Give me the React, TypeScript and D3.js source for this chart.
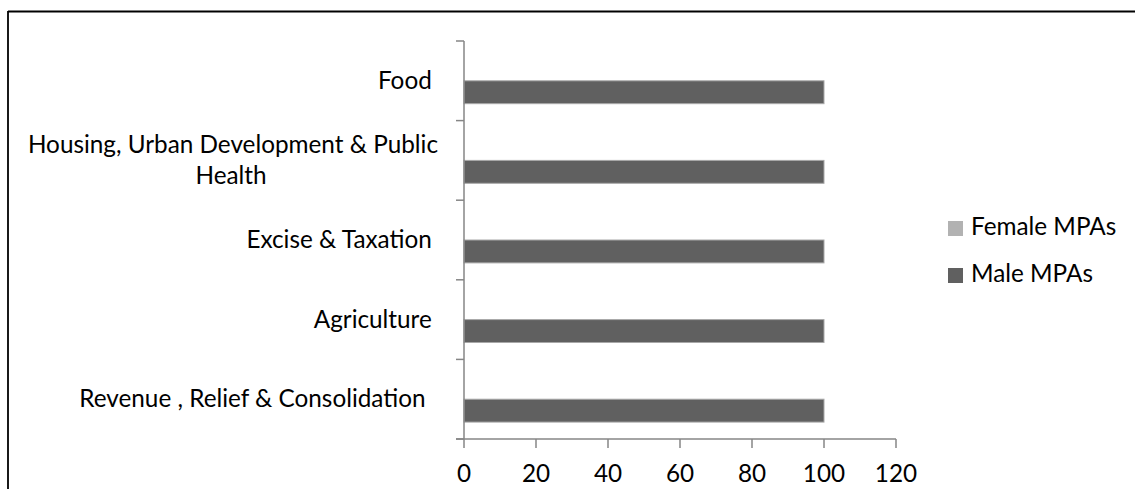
import React from "react";
import * as d3 from "d3";

const categories = [
  "Food",
  "Housing, Urban Development & Public Health",
  "Excise & Taxation",
  "Agriculture",
  "Revenue , Relief & Consolidation",
];
const labelLines = [
  ["Food "],
  ["Housing, Urban Development & Public", "Health"],
  ["Excise & Taxation "],
  ["Agriculture "],
  ["Revenue , Relief & Consolidation  "],
];
const seriesNames = ["Female MPAs", "Male MPAs"];
const femaleValues = [0, 0, 0, 0, 0];
const maleValues = [100, 100, 100, 100, 100];
const xTicks = [0, 20, 40, 60, 80, 100, 120];

const W = 1135;
const H = 489;
const FONT = "Lato, 'Open Sans', sans-serif";
const FS = 24.3;
const AXIS = "#868686";
const COLORS: Record<string, string> = { "Female MPAs": "#b2b2b2", "Male MPAs": "#606060" };

export default function App() {
  const x = d3.scaleLinear().domain([0, 120]).range([464, 896]);
  const y = d3.scaleBand<string>().domain(categories).range([41, 439]).paddingInner(0).paddingOuter(0);
  const sub = d3
    .scaleBand<string>()
    .domain(seriesNames)
    .range([0, y.bandwidth()])
    .paddingInner(0)
    .paddingOuter(0.739);
  const values: Record<string, number[]> = { "Female MPAs": femaleValues, "Male MPAs": maleValues };
  const bandEdges = categories.map((c) => y(c) as number).concat([y.range()[1]]);

  return (
    <svg width={W} height={H} style={{ position: "absolute", left: 0, top: 0, background: "#fff" }}>
      <rect x={0} y={0} width={W} height={H} fill="#fff" />
      {/* frame */}
      <line x1={8} y1={11.5} x2={W} y2={11.5} stroke="#000" strokeWidth={1.8} />
      <line x1={8} y1={11} x2={8} y2={H} stroke="#000" strokeWidth={1.8} />

      {/* bars */}
      {seriesNames.map((s) =>
        categories.map((c, i) => {
          const v = values[s][i];
          if (v <= 0) return null;
          const yy = (y(c) as number) + (sub(s) as number);
          return (
            <rect
              key={s + c}
              x={x(0)}
              y={yy}
              width={x(v) - x(0)}
              height={sub.bandwidth()}
              fill={COLORS[s]}
              stroke="#a8a8a8"
              strokeWidth={1}
            />
          );
        })
      )}

      {/* y axis */}
      <line x1={464} y1={y.range()[0]} x2={464} y2={y.range()[1]} stroke={AXIS} strokeWidth={1.5} />
      {bandEdges.map((e, i) => (
        <line key={"yt" + i} x1={456} y1={e} x2={464} y2={e} stroke={AXIS} strokeWidth={1.5} />
      ))}
      {/* x axis */}
      <line x1={456} y1={439} x2={x(120)} y2={439} stroke={AXIS} strokeWidth={1.5} />
      {xTicks.map((t) => (
        <line key={"xt" + t} x1={x(t)} y1={439} x2={x(t)} y2={448} stroke={AXIS} strokeWidth={1.5} />
      ))}
      {xTicks.map((t) => (
        <text key={"xl" + t} x={x(t)} y={482} textAnchor="middle" fontFamily={FONT} fontSize={FS} fill="#000">
          {t}
        </text>
      ))}

      {/* category labels */}
      {categories.map((c, i) => {
        const lines = labelLines[i];
        const cy = (y(c) as number) + y.bandwidth() / 2;
        const lh = 31;
        const first = cy - ((lines.length - 1) * lh) / 2 + 8;
        return (
          <text key={"cl" + c} fontFamily={FONT} fontSize={FS} fill="#000" style={{ whiteSpace: "pre" }}>
            {lines.map((ln, j) => (
              <tspan
                key={j}
                x={lines.length > 1 && j > 0 ? 231 : 438}
                y={first + j * lh}
                textAnchor={lines.length > 1 && j > 0 ? "middle" : "end"}
              >
                {ln}
              </tspan>
            ))}
          </text>
        );
      })}

      {/* legend */}
      {seriesNames.map((s, i) => (
        <g key={"lg" + s} transform={`translate(948, ${221 + i * 47})`}>
          <rect x={0} y={0} width={15} height={15} fill={COLORS[s]} />
          <text x={23} y={14} fontFamily={FONT} fontSize={FS} fill="#000">
            {s}
          </text>
        </g>
      ))}
    </svg>
  );
}
